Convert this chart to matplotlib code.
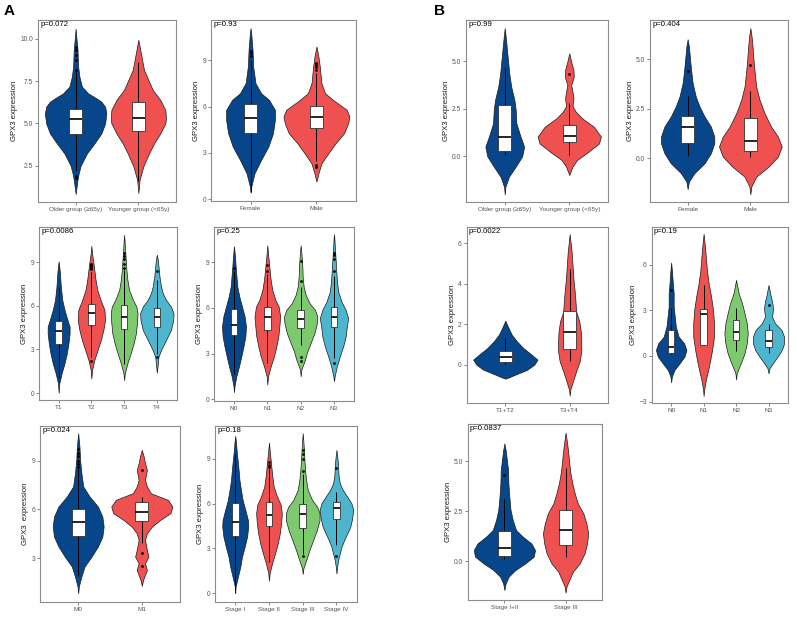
import matplotlib
matplotlib.use("Agg")
import matplotlib.pyplot as plt

plt.rcParams['font.family'] = ['Liberation Sans', 'DejaVu Sans']

# ---------------- data ----------------
# A1: age, TCGA
age_a_groups = ["Older group (≥65y)", "Younger group (<65y)"]
age_a_p = "p=0.072"
age_a_y = [[0.83, 1.68, 2.07, 2.5, 3.23, 3.82, 4.41, 5.0, 5.59, 5.98, 6.28, 6.48, 6.77, 7.17, 7.76, 8.35, 9.34, 9.93, 10.59],
           [0.89, 1.68, 2.47, 3.23, 3.82, 4.41, 5.0, 5.3, 5.79, 6.38, 6.97, 7.56, 8.15, 8.74, 9.34, 9.93]]
age_a_w = [[0, 0.03, 0.05, 0.08, 0.18, 0.30, 0.41, 0.47, 0.49, 0.47, 0.41, 0.33, 0.20, 0.10, 0.06, 0.04, 0.03, 0.015, 0],
           [0, 0.02, 0.08, 0.17, 0.25, 0.35, 0.43, 0.44, 0.43, 0.35, 0.23, 0.16, 0.09, 0.06, 0.03, 0]]
age_a_box = [[2.2, 4.39, 5.26, 5.87, 8.05], [1.6, 4.55, 5.33, 6.24, 8.65]]
age_a_out = [[1.75, 1.9, 8.15, 8.74, 9.04, 9.34, 9.53], []]

# A2: gender, TCGA
sex_a_groups = ["Female", "Male"]
sex_a_p = "p=0.93"
sex_a_y = [[0.43, 0.82, 1.68, 2.55, 3.41, 4.28, 5.14, 5.79, 6.44, 6.87, 7.52, 8.6, 9.68, 10.75, 11.08],
           [1.15, 1.68, 2.33, 2.98, 3.63, 4.28, 4.92, 5.36, 5.79, 6.44, 6.87, 7.52, 8.6, 9.24, 9.89]]
sex_a_w = [[0, 0.01, 0.06, 0.16, 0.27, 0.34, 0.37, 0.37, 0.28, 0.16, 0.075, 0.04, 0.03, 0.01, 0],
           [0, 0.03, 0.076, 0.18, 0.29, 0.42, 0.48, 0.5, 0.46, 0.25, 0.13, 0.075, 0.05, 0.03, 0]]
sex_a_box = [[0.5, 4.28, 5.25, 6.2, 9.0], [2.5, 4.6, 5.36, 6.05, 8.2]]
sex_a_out = [[9.3, 9.45, 9.6], [2.1, 2.25, 8.4, 8.55, 8.7, 8.8]]

# B1: age, GEO
age_b_groups = ["Older group (≥65y)", "Younger group (<65y)"]
age_b_p = "p=0.99"
age_b_y = [[-2.0, -1.6, -1.07, -0.54, 0, 0.51, 1.04, 1.74, 2.44, 2.96, 3.67, 4.37, 5.07, 5.77, 6.3, 6.74],
           [-0.98, -0.54, -0.19, 0.25, 0.68, 1.04, 1.56, 2.0, 2.35, 2.65, 3.05, 3.4, 3.75, 4.19, 4.54, 4.98, 5.42]]
age_b_w = [[0, 0.01, 0.065, 0.17, 0.27, 0.30, 0.245, 0.18, 0.17, 0.15, 0.10, 0.07, 0.05, 0.03, 0.015, 0],
           [0, 0.05, 0.12, 0.30, 0.46, 0.49, 0.38, 0.20, 0.10, 0.05, 0.065, 0.05, 0.03, 0.07, 0.065, 0.03, 0]]
age_b_box = [[0.05, 0.3, 1.02, 2.7, 4.63], [0.07, 0.74, 1.05, 1.65, 2.79]]
age_b_out = [[], [4.33]]

# B2: gender, GEO
sex_b_groups = ["Female", "Male"]
sex_b_p = "p=0.404"
sex_b_y = [[-1.55, -1.18, -0.76, -0.25, 0.25, 0.76, 1.09, 1.6, 2.1, 2.61, 3.11, 3.79, 4.46, 5.13, 5.64, 6.01],
           [-1.82, -1.43, -0.93, -0.42, 0.08, 0.59, 1.09, 1.6, 2.27, 2.95, 3.62, 4.29, 4.97, 5.64, 6.14, 6.57]]
sex_b_w = [[0, 0.02, 0.106, 0.27, 0.37, 0.425, 0.425, 0.37, 0.27, 0.19, 0.13, 0.08, 0.055, 0.035, 0.02, 0],
           [0, 0.015, 0.093, 0.29, 0.44, 0.5, 0.44, 0.33, 0.226, 0.146, 0.093, 0.07, 0.05, 0.035, 0.02, 0]]
sex_b_box = [[0.12, 0.76, 1.57, 2.14, 3.15], [0.08, 0.37, 0.88, 2.05, 3.37]]
sex_b_out = [[4.38], [4.71]]

# A3: T stage, TCGA
t_a_groups = ["T1", "T2", "T3", "T4"]
t_a_p = "p=0.0086"
t_a_y = [[0.02, 0.67, 1.35, 2.04, 2.73, 3.42, 4.1, 4.56, 5.02, 5.71, 6.4, 7.32, 8.23, 8.69, 9.04],
         [1.0, 1.58, 2.27, 2.96, 3.65, 4.33, 5.02, 5.71, 6.4, 7.09, 7.78, 8.46, 9.15, 9.61, 10.11],
         [0.89, 1.35, 2.04, 2.73, 3.42, 4.1, 4.79, 5.48, 5.94, 6.4, 7.09, 7.78, 8.46, 9.15, 9.84, 10.41, 10.87],
         [1.4, 1.81, 2.5, 2.96, 3.65, 4.33, 5.02, 5.48, 5.94, 6.4, 6.86, 7.32, 8.0, 8.69, 9.15, 9.5]]
t_a_w = [[0, 0.02, 0.09, 0.18, 0.25, 0.3, 0.335, 0.335, 0.27, 0.18, 0.11, 0.066, 0.04, 0.02, 0],
         [0, 0.02, 0.09, 0.19, 0.29, 0.366, 0.417, 0.4, 0.28, 0.18, 0.127, 0.09, 0.05, 0.02, 0],
         [0, 0.02, 0.1, 0.2, 0.29, 0.36, 0.39, 0.41, 0.375, 0.27, 0.15, 0.1, 0.07, 0.05, 0.03, 0.015, 0],
         [0, 0.02, 0.05, 0.13, 0.28, 0.43, 0.5, 0.51, 0.43, 0.28, 0.18, 0.127, 0.08, 0.05, 0.03, 0]]
t_a_box = [[1.0, 3.37, 4.24, 4.98, 7.3], [2.5, 4.66, 5.53, 6.12, 8.3],
           [2.0, 4.4, 5.25, 6.03, 8.45], [2.65, 4.56, 5.25, 5.87, 7.8]]
t_a_out = [[], [2.2, 8.5, 8.6, 8.7, 8.8, 8.9], [8.6, 8.9, 9.2, 9.4, 9.6], [2.5, 8.4]]

# A4: N stage, TCGA
n_a_groups = ["N0", "N1", "N2", "N3"]
n_a_p = "p=0.25"
n_a_y = [[0.48, 0.87, 1.52, 2.17, 2.83, 3.48, 4.13, 4.78, 5.43, 6.09, 6.74, 7.39, 8.04, 8.7, 9.35, 10.04],
         [0.98, 1.52, 2.17, 2.83, 3.48, 4.13, 4.78, 5.43, 6.09, 6.52, 7.17, 7.83, 8.48, 9.13, 9.57, 10.1],
         [1.52, 1.96, 2.61, 3.15, 3.7, 4.35, 5.0, 5.43, 5.87, 6.3, 6.85, 7.39, 8.04, 8.7, 9.35, 9.78, 10.1],
         [1.2, 1.52, 2.17, 2.83, 3.48, 4.13, 4.78, 5.33, 5.87, 6.41, 7.07, 7.72, 8.37, 9.13, 9.78, 10.43, 10.83]]
n_a_w = [[0, 0.015, 0.07, 0.15, 0.22, 0.285, 0.34, 0.36, 0.32, 0.24, 0.16, 0.1, 0.075, 0.05, 0.03, 0],
         [0, 0.02, 0.1, 0.2, 0.27, 0.33, 0.36, 0.385, 0.34, 0.24, 0.15, 0.1, 0.07, 0.04, 0.02, 0],
         [0, 0.02, 0.13, 0.2, 0.3, 0.415, 0.485, 0.5, 0.43, 0.27, 0.15, 0.09, 0.06, 0.05, 0.03, 0.015, 0],
         [0, 0.02, 0.085, 0.175, 0.275, 0.35, 0.385, 0.425, 0.35, 0.225, 0.125, 0.09, 0.07, 0.05, 0.03, 0.015, 0]]
n_a_box = [[1.7, 4.24, 4.89, 5.96, 8.4], [2.4, 4.57, 5.39, 6.04, 8.2],
           [3.6, 4.67, 5.3, 5.87, 7.4], [2.7, 4.72, 5.39, 6.09, 8.1]]
n_a_out = [[8.63], [8.4, 8.8], [2.5, 2.8, 7.76, 9.04], [2.4, 8.4, 9.2, 9.45, 9.6]]

# B3: T stage, GEO
t_b_groups = ["T1+T2", "T3+T4"]
t_b_p = "p=0.0022"
t_b_y = [[-0.69, -0.62, -0.49, -0.25, 0, 0.25, 0.49, 0.82, 1.15, 1.48, 1.81, 2.17],
         [-1.53, -1.23, -0.82, -0.33, 0.16, 0.66, 1.15, 1.64, 2.13, 2.63, 3.12, 3.61, 4.1, 4.6, 5.09, 5.58, 5.99, 6.44]]
t_b_w = [[0, 0.06, 0.155, 0.34, 0.45, 0.5, 0.41, 0.28, 0.18, 0.1, 0.05, 0],
         [0, 0.01, 0.05, 0.1, 0.155, 0.18, 0.18, 0.173, 0.15, 0.1, 0.09, 0.078, 0.062, 0.05, 0.04, 0.03, 0.015, 0]]
t_b_box = [[0.03, 0.13, 0.38, 0.69, 1.35], [0.2, 0.77, 1.59, 2.63, 4.7]]
t_b_out = [[], []]

# B4: N stage, GEO
n_b_groups = ["N0", "N1", "N2", "N3"]
n_b_p = "p=0.19"
n_b_y = [[-1.73, -1.36, -0.92, -0.48, -0.04, 0.39, 0.83, 1.27, 1.93, 2.59, 3.25, 4.12, 4.78, 5.44, 6.14],
         [-2.63, -2.24, -1.58, -0.92, -0.26, 0.39, 1.27, 2.15, 3.03, 3.9, 4.78, 5.66, 6.54, 7.19, 7.63, 8.03],
         [-1.54, -1.14, -0.7, -0.26, 0.18, 0.83, 1.49, 2.15, 2.81, 3.46, 4.12, 4.56, 5.0],
         [-1.14, -0.81, -0.48, -0.04, 0.39, 0.83, 1.27, 1.71, 2.15, 2.59, 3.14, 3.57, 4.01, 4.34, 4.67]]
n_b_w = [[0, 0.02, 0.1, 0.26, 0.41, 0.47, 0.4, 0.23, 0.144, 0.11, 0.077, 0.077, 0.05, 0.03, 0],
         [0, 0.015, 0.067, 0.14, 0.205, 0.26, 0.32, 0.32, 0.29, 0.23, 0.154, 0.1, 0.067, 0.04, 0.02, 0],
         [0, 0.02, 0.1, 0.185, 0.26, 0.33, 0.36, 0.33, 0.26, 0.185, 0.08, 0.04, 0],
         [0, 0.03, 0.13, 0.28, 0.41, 0.48, 0.48, 0.4, 0.2, 0.11, 0.14, 0.11, 0.06, 0.03, 0]]
n_b_box = [[0.13, 0.22, 0.59, 1.71, 3.14], [0.7, 0.72, 2.76, 3.07, 4.67],
           [0.35, 1.05, 1.6, 2.37, 3.14], [0.18, 0.61, 1.01, 1.71, 2.1]]
n_b_out = [[4.32], [], [], [3.36]]

# A5: M stage, TCGA
m_a_groups = ["M0", "M1"]
m_a_p = "p=0.024"
m_a_y = [[0.85, 1.26, 1.87, 2.49, 3.1, 3.72, 4.33, 4.95, 5.56, 6.18, 6.79, 7.41, 8.23, 9.05, 9.86, 10.68],
         [1.3, 1.67, 2.28, 2.69, 3.1, 3.51, 4.13, 4.54, 4.95, 5.36, 5.77, 6.18, 6.59, 7.0, 7.41, 7.82, 8.43, 8.84, 9.25, 9.66]]
m_a_w = [[0, 0.01, 0.05, 0.1, 0.21, 0.31, 0.38, 0.4, 0.38, 0.31, 0.18, 0.08, 0.05, 0.03, 0.02, 0],
         [0, 0.02, 0.08, 0.05, 0.105, 0.08, 0.05, 0.08, 0.16, 0.29, 0.45, 0.48, 0.41, 0.14, 0.08, 0.05, 0.08, 0.05, 0.03, 0]]
m_a_box = [[1.9, 4.37, 5.23, 6.05, 8.5], [3.92, 5.32, 5.87, 6.46, 6.79]]
m_a_out = [[8.6, 8.8, 9.0, 9.3, 9.5, 9.7], [2.55, 3.35, 8.43]]

# A6: stage, TCGA
s_a_groups = ["Stage I", "Stage II", "Stage III", "Stage IV"]
s_a_p = "p=0.18"
s_a_y = [[0.0, 0.43, 1.1, 1.77, 2.44, 3.11, 3.78, 4.45, 4.9, 5.57, 6.24, 6.91, 7.58, 8.26, 8.93, 9.6, 10.16, 10.54],
         [0.83, 1.32, 1.99, 2.66, 3.33, 4.0, 4.68, 5.35, 5.91, 6.47, 7.14, 7.81, 8.48, 9.15, 9.6, 10.09],
         [1.28, 1.66, 2.33, 2.89, 3.56, 4.23, 4.9, 5.35, 5.79, 6.24, 6.91, 7.58, 8.26, 8.93, 9.6, 10.16, 10.72],
         [1.32, 1.77, 2.21, 2.66, 3.11, 3.56, 4.0, 4.45, 4.9, 5.57, 6.02, 6.47, 6.91, 7.36, 7.92, 8.48, 9.04, 9.6]]
s_a_w = [[0, 0.01, 0.08, 0.15, 0.2, 0.28, 0.35, 0.385, 0.375, 0.3, 0.22, 0.17, 0.125, 0.1, 0.07, 0.04, 0.02, 0],
         [0, 0.02, 0.09, 0.18, 0.26, 0.32, 0.36, 0.38, 0.35, 0.24, 0.14, 0.1, 0.07, 0.04, 0.02, 0],
         [0, 0.02, 0.12, 0.2, 0.31, 0.42, 0.5, 0.5, 0.43, 0.28, 0.15, 0.1, 0.07, 0.05, 0.035, 0.02, 0],
         [0, 0.02, 0.05, 0.1, 0.15, 0.23, 0.32, 0.41, 0.455, 0.5, 0.445, 0.32, 0.19, 0.1, 0.06, 0.05, 0.03, 0]]
s_a_box = [[0.3, 3.83, 4.79, 6.06, 9.3], [2.1, 4.5, 5.23, 6.08, 8.3],
           [2.6, 4.34, 5.28, 5.95, 8.0], [3.2, 4.94, 5.68, 6.13, 6.8]]
s_a_out = [[], [8.45, 8.6, 8.8], [2.48, 8.2, 9.0, 9.3, 9.6], [2.48, 8.41]]

# B5: stage, GEO
s_b_groups = ["Stage I+II", "Stage III"]
s_b_p = "p=0.0837"
s_b_y = [[-1.45, -1.12, -0.78, -0.45, -0.12, 0.22, 0.55, 0.88, 1.22, 1.55, 2.05, 2.55, 3.22, 3.88, 4.55, 5.05, 5.55, 5.88],
         [-1.58, -1.28, -0.95, -0.53, -0.12, 0.38, 0.88, 1.38, 1.88, 2.38, 2.88, 3.38, 3.88, 4.38, 4.88, 5.38, 5.88, 6.42]]
s_b_w = [[0, 0.02, 0.07, 0.18, 0.34, 0.48, 0.5, 0.44, 0.3, 0.19, 0.136, 0.1, 0.08, 0.065, 0.06, 0.04, 0.02, 0],
         [0, 0.015, 0.06, 0.12, 0.23, 0.31, 0.35, 0.37, 0.34, 0.29, 0.2, 0.15, 0.11, 0.08, 0.06, 0.045, 0.025, 0]]
s_b_box = [[0.08, 0.27, 0.67, 1.52, 3.12], [0.22, 0.78, 1.57, 2.55, 4.63]]
s_b_out = [[4.32], []]

# ---------------- layout / style ----------------
W, H = 797, 617
COLORS = ["#07468A", "#EF5151", "#7CC96E", "#4DB6CE"]
TICK_GREY = "#555555"
SPINE_GREY = "#8C8C8C"

panels = [
    # data, pixel box (left, top, right, bottom), ylim, yticks, ytick labels, ylabel
    (age_a_groups, age_a_p, age_a_y, age_a_w, age_a_box, age_a_out, (38, 20, 176, 202), (0.36, 11.1), [2.5, 5, 7.5, 10], ["2.5", "5.0", "7.5", "10.0"], "GPX3 expression"),
    (sex_a_groups, sex_a_p, sex_a_y, sex_a_w, sex_a_box, sex_a_out, (211, 20, 356, 201), (-0.11, 11.61), [0, 3, 6, 9], ["0", "3", "6", "9"], "GPX3 expression"),
    (age_b_groups, age_b_p, age_b_y, age_b_w, age_b_box, age_b_out, (466, 20, 608, 202), (-2.4, 7.17), [0, 2.5, 5], ["0.0", "2.5", "5.0"], "GPX3 expression"),
    (sex_b_groups, sex_b_p, sex_b_y, sex_b_w, sex_b_box, sex_b_out, (650, 20, 788, 202), (-2.21, 6.98), [0, 2.5, 5], ["0.0", "2.5", "5.0"], "GPX3 expression"),
    (t_a_groups, t_a_p, t_a_y, t_a_w, t_a_box, t_a_out, (39, 227, 176.5, 400), (-0.48, 11.41), [0, 3, 6, 9], ["0", "3", "6", "9"], "GPX3 expression"),
    (n_a_groups, n_a_p, n_a_y, n_a_w, n_a_box, n_a_out, (214, 227, 354, 401), (-0.1, 11.3), [0, 3, 6, 9], ["0", "3", "6", "9"], "GPX3 expression"),
    (t_b_groups, t_b_p, t_b_y, t_b_w, t_b_box, t_b_out, (466.7, 227, 608.3, 403), (-1.89, 6.79), [0, 2, 4, 6], ["0", "2", "4", "6"], "GPX3 expression"),
    (n_b_groups, n_b_p, n_b_y, n_b_w, n_b_box, n_b_out, (651.7, 227, 788, 402.7), (-3.07, 8.48), [-3, 0, 3, 6], ["\u22123", "0", "3", "6"], "GPX3 expression"),
    (m_a_groups, m_a_p, m_a_y, m_a_w, m_a_box, m_a_out, (40, 426, 180, 601.7), (0.33, 11.13), [3, 6, 9], ["3", "6", "9"], "GPX3  expression"),
    (s_a_groups, s_a_p, s_a_y, s_a_w, s_a_box, s_a_out, (215, 426, 356.7, 601.7), (-0.58, 11.21), [0, 3, 6, 9], ["0", "3", "6", "9"], "GPX3 expression"),
    (s_b_groups, s_b_p, s_b_y, s_b_w, s_b_box, s_b_out, (467.7, 424.3, 602.3, 600), (-1.95, 6.84), [0, 2.5, 5], ["0.0", "2.5", "5.0"], "GPX3 expression"),
]

fig = plt.figure(figsize=(W / 100, H / 100), dpi=100)
fig.patch.set_facecolor("white")

BOX_W = 0.2
for groups, ptxt, vy, vw, boxes, outs, (l, t, r, b), ylim, yt, ytl, ylab in panels:
    ax = fig.add_axes([l / W, 1 - b / H, (r - l) / W, (b - t) / H])
    n = len(groups)
    for i in range(n):
        pos = i + 1
        ys, ws = vy[i], vw[i]
        ax.fill_betweenx(ys, [pos - w for w in ws], [pos + w for w in ws],
                         facecolor=COLORS[i], edgecolor="#1a1a1a", linewidth=0.5,
                         joinstyle="round", zorder=2)
        lo, q1, med, q3, hi = boxes[i]
        ax.plot([pos, pos], [lo, q1], color="black", lw=0.7, zorder=3, solid_capstyle="butt")
        ax.plot([pos, pos], [q3, hi], color="black", lw=0.7, zorder=3, solid_capstyle="butt")
        ax.add_patch(plt.Rectangle((pos - BOX_W / 2, q1), BOX_W, q3 - q1,
                                   facecolor="white", edgecolor="#333333", lw=0.6, zorder=4))
        ax.plot([pos - BOX_W / 2, pos + BOX_W / 2], [med, med], color="black", lw=1.2,
                zorder=5, solid_capstyle="butt")
        if outs[i]:
            ax.plot([pos] * len(outs[i]), outs[i], "o", color="black", ms=2.0, mew=0, zorder=6)
    ax.set_xlim(0.4, n + 0.6)
    ax.set_ylim(*ylim)
    ax.set_xticks(range(1, n + 1))
    ax.set_xticklabels(groups)
    ax.set_yticks(yt)
    ax.set_yticklabels(ytl)
    ax.tick_params(axis="both", colors=TICK_GREY, length=2, width=0.5, pad=1.5)
    ax.tick_params(axis="x", labelsize=4.6)
    ax.tick_params(axis="y", labelsize=4.8)
    for s in ax.spines.values():
        s.set_color(SPINE_GREY)
        s.set_linewidth(0.8)
    ax.set_ylabel(ylab, fontsize=5.6, color="#1a1a1a", labelpad=1.5)
    ax.text(0.015, 0.995, ptxt, transform=ax.transAxes, ha="left", va="top",
            fontsize=5.6, color="black")

fig.text(4 / W, 1 - 11 / H, "A", fontsize=11, fontweight="bold", ha="left", va="center")
fig.text(434 / W, 1 - 11 / H, "B", fontsize=11, fontweight="bold", ha="left", va="center")

fig.savefig("out.png", dpi=100, facecolor="white")
